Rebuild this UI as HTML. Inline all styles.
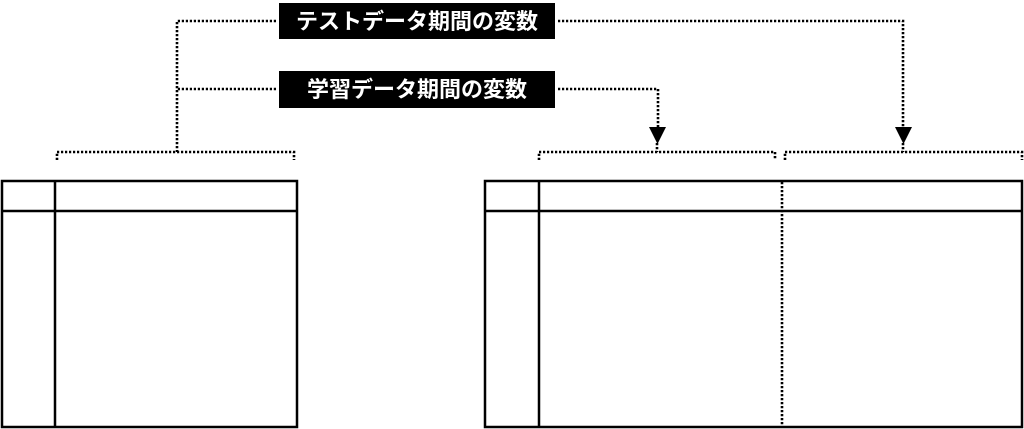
<!DOCTYPE html>
<html><head><meta charset="utf-8"><style>
html,body{margin:0;padding:0;background:#fff;width:1024px;height:429px;overflow:hidden}
</style></head><body>
<svg width="1024" height="429" xmlns="http://www.w3.org/2000/svg" style="display:block">
<g fill="none" stroke="#000" stroke-width="2.6" stroke-dasharray="2.2 1.8">
<path d="M276 21 H177 V152"/>
<path d="M276 89 H177"/>
<path d="M57 160 V152 H294 V160"/>
<path d="M558 21 H903 V130"/>
<path d="M558 89 H658 V130"/>
<path d="M539 160 V152 H775 V160"/>
<path d="M785 160 V152 H1022 V160"/>
<path d="M657 143 V152"/>
<path d="M903 143 V152"/>
<path d="M782 182 V427"/>
</g>
<polygon points="649,127 666,127 657.5,144" fill="#000"/>
<polygon points="895,127 912,127 903.5,144" fill="#000"/>
<rect x="279" y="3" width="276" height="36" fill="#000"/>
<rect x="279" y="71" width="276" height="37" fill="#000"/>
<g font-family="'Liberation Sans','Noto Sans CJK JP',sans-serif" font-weight="bold" font-size="22" fill="#fff" text-anchor="middle">
<text x="417" y="29">テストデータ期間の変数</text>
<text x="417" y="97">学習データ期間の変数</text>
</g>
<g fill="none" stroke="#000" stroke-width="2.5">
<rect x="2" y="181" width="295" height="246"/>
<line x1="2" y1="211" x2="297" y2="211"/>
<line x1="55" y1="181" x2="55" y2="427"/>
<rect x="485" y="181" width="537" height="246"/>
<line x1="485" y1="211" x2="1022" y2="211"/>
<line x1="539" y1="181" x2="539" y2="427"/>
</g>
</svg>
</body></html>
